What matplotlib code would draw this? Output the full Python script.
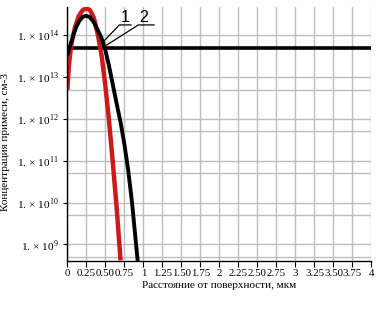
import numpy as np
import matplotlib
matplotlib.use("Agg")
import matplotlib.pyplot as plt
from matplotlib.ticker import FixedLocator, NullFormatter

plt.rcParams['font.family'] = ['Liberation Serif', 'DejaVu Serif']
plt.rcParams['mathtext.fontset'] = 'custom'
plt.rcParams['mathtext.rm'] = 'Liberation Serif'

# curve 1 (red) - depth, um / log10 of concentration, cm-3
red_x = [0.00, 0.02, 0.05, 0.10, 0.15, 0.20, 0.25, 0.30, 0.35, 0.40,
         0.45, 0.50, 0.55, 0.60, 0.65, 0.70]
red_log = [12.69, 13.25, 13.75, 14.18, 14.45, 14.59, 14.64, 14.59, 14.40, 14.02,
           13.52, 12.80, 11.92, 10.92, 9.85, 8.62]

# curve 2 (black)
blk_x = [0.00, 0.03, 0.08, 0.12, 0.16, 0.20, 0.25, 0.30, 0.35, 0.40,
         0.45, 0.50, 0.55, 0.60, 0.65, 0.70, 0.75, 0.80, 0.85, 0.90, 0.926]
blk_log = [13.52, 13.70, 14.00, 14.20, 14.34, 14.43, 14.46, 14.42, 14.30, 14.12,
           13.93, 13.64, 13.25, 12.80, 12.35, 11.92, 11.40, 10.78, 10.02, 9.08, 8.60]

# background level (horizontal line)
base_level = 5e13

x_ticks = [0, 0.25, 0.5, 0.75, 1, 1.25, 1.5, 1.75, 2, 2.25, 2.5, 2.75,
           3, 3.25, 3.5, 3.75, 4]
x_tick_labels = ["0", "0.25", "0.50", "0.75", "1", "1.25", "1.50", "1.75", "2",
                 "2.25", "2.50", "2.75", "3", "3.25", "3.50", "3.75", "4"]
y_exps = [9, 10, 11, 12, 13, 14]

fig = plt.figure(figsize=(3.79, 3.32), dpi=100)
ax = fig.add_axes([0.1776, 0.2139, 0.8026, 0.765])
ax.set_yscale('log')
ax.set_xlim(0, 4)
ax.set_ylim(10 ** 8.606, 10 ** 14.668)

# grid: every 0.25 in x, 1eN and 5eN in y
grid_c = '#bdbdbd'
for xv in x_ticks:
    ax.axvline(xv, color=grid_c, lw=1.0, zorder=0)
for e in range(8, 15):
    for m in (1, 5):
        v = m * 10.0 ** e
        if 10 ** 8.606 < v < 10 ** 14.668:
            ax.axhline(v, color=grid_c, lw=1.0, zorder=0)

ax.plot([0, 4], [base_level, base_level], color='black', lw=2.6, zorder=3)
ax.plot(red_x, 10 ** np.array(red_log), color='#cc1a1a', lw=3.2, zorder=4,
        solid_capstyle='butt')
ax.plot(blk_x, 10 ** np.array(blk_log), color='black', lw=2.8, zorder=5,
        solid_capstyle='butt')

# leader lines for curve numbers
ax.plot([0.473, 0.684, 0.838], 10 ** np.array([13.84, 14.24, 14.24]),
        color='black', lw=0.9, zorder=6)
ax.plot([0.518, 0.934, 1.14], 10 ** np.array([13.76, 14.24, 14.24]),
        color='black', lw=0.9, zorder=6)
ax.text(0.765, 10 ** 14.41, '1', family='Liberation Sans', fontsize=11.5,
        ha='center', va='center', zorder=6)
ax.text(1.01, 10 ** 14.41, '2', family='Liberation Sans', fontsize=11.5,
        ha='center', va='center', zorder=6)

ax.set_xticks(x_ticks)
ax.set_xticklabels(x_tick_labels, fontsize=7.8)
ax.yaxis.set_major_locator(FixedLocator([10.0 ** e for e in y_exps]))
ax.yaxis.set_minor_locator(FixedLocator([]))
ax.yaxis.set_minor_formatter(NullFormatter())
ax.set_yticklabels(['1. \u00d7 10$^{\\mathrm{%d}}$' % e for e in y_exps], fontsize=8.2)
ax.tick_params(axis='x', length=4, width=0.8, pad=2)
ax.tick_params(axis='y', length=3, width=0.8, pad=3)

for s in ('top', 'right'):
    ax.spines[s].set_visible(False)
for s in ('left', 'bottom'):
    ax.spines[s].set_linewidth(1.0)
    ax.spines[s].set_zorder(7)

ax.set_xlabel('Расстояние от поверхности, мкм', fontsize=8, labelpad=2)
ax.set_ylabel('Концентрация примеси, см-3', fontsize=8, labelpad=2)
ax.yaxis.set_label_coords(-0.19, 0.47)

fig.savefig('out.png', dpi=100)
